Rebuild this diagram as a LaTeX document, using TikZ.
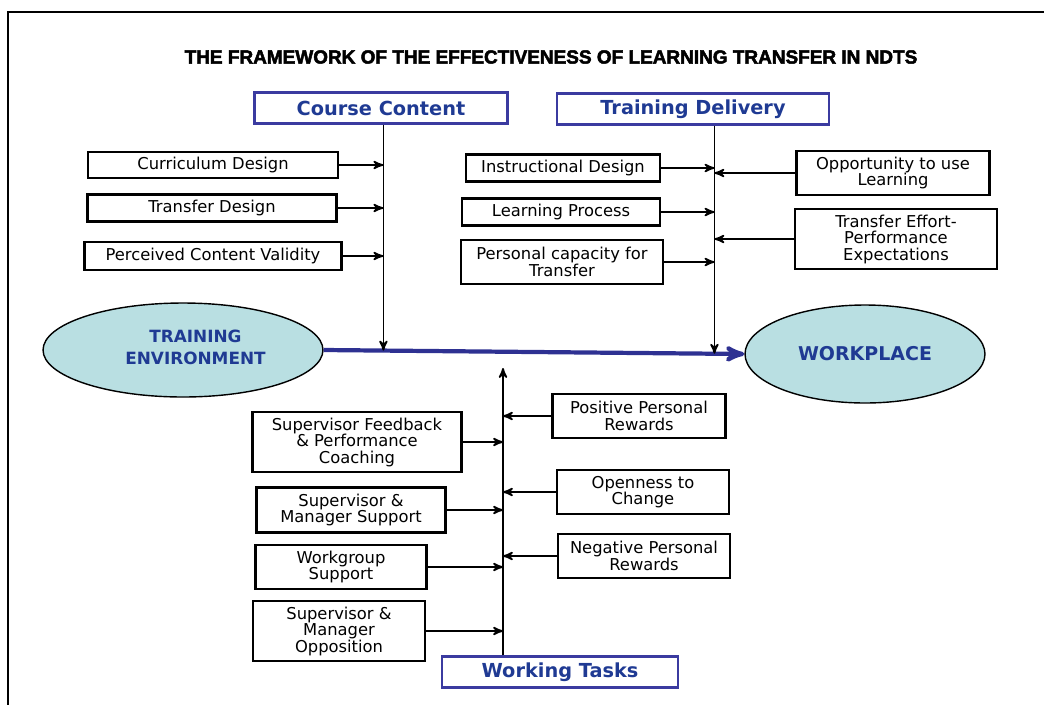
\documentclass[tikz,border=0pt]{standalone}
\usepackage{fontspec}
\setmainfont{DejaVu Sans}
\newfontfamily\titelfont[BoldFeatures={FakeBold=2.5}]{Liberation Sans}
\usepackage{tikz}
\usetikzlibrary{arrows,positioning,shapes.geometric,calc}
\definecolor{kantblaa}{HTML}{3B3BA0}
\definecolor{tekstblaa}{HTML}{1F3A93}
\definecolor{pilblaa}{HTML}{2E3192}
\definecolor{lysblaa}{HTML}{B9DFE2}
\tikzset{
    %Define standard arrow tip
    >=stealth',
    %Define style for factor boxes
    boks/.style={
           rectangle,
           draw=black, line width=1.2pt,
           align=center,
           inner sep=1pt,
           font=\fontsize{9.3}{9.4}\selectfont},
    % Define style for heading boxes
    hode/.style={
           rectangle,
           draw=kantblaa, line width=1.2pt,
           text=tekstblaa,
           minimum height=0.62cm,
           font=\bfseries\fontsize{11}{12}\selectfont},
    % Define style for the two ellipses
    miljo/.style={
           ellipse,
           draw=black, thick,
           fill=lysblaa,
           text=tekstblaa,
           align=center,
           font=\bfseries\fontsize{9.6}{12}\selectfont},
    % Define arrow styles
    pil/.style={
           ->,
           line width=1pt},
    hovedpil/.style={
           ->,
           line width=2.4pt,
           draw=pilblaa}
}
\begin{document}
\begin{tikzpicture}[x=0.02cm, y=-0.02cm]
      \useasboundingbox (0,0) rectangle (1044,704);
      \draw[line width=1.2pt] (8,720) -- (8,12) -- (1060,12);

      \node (tittel) at (551,57) {\titelfont\bfseries\fontsize{10.8}{12}\selectfont THE FRAMEWORK OF THE EFFECTIVENESS OF LEARNING TRANSFER IN NDTS};

      \node[hode, minimum width=5.06cm] (course) at (381,108) {Course Content};
      \node[hode, minimum width=5.44cm] (delivery) at (693,109) {Training Delivery};
      \node[hode, minimum width=4.72cm] (tasks) at (560,672) {Working Tasks};

      \node[miljo, minimum width=5.6cm, minimum height=1.88cm] (env) at (183,350) {\raisebox{0.12cm}{\shortstack{\hspace*{0.5cm}TRAINING\\[2pt]\hspace*{0.5cm}ENVIRONMENT}}};
      \node[miljo, minimum width=4.8cm, minimum height=1.96cm, font=\bfseries\fontsize{10.8}{12}\selectfont] (wp) at (865,354) {\raisebox{-0.05cm}{WORKPLACE}};

      \draw[hovedpil] (env.east) -- (wp.west);
      \coordinate (kc) at ($(env.east)!0.142!(wp.west)$);
      \coordinate (kd) at ($(env.east)!0.929!(wp.west)$);
      \coordinate (kw) at (503,368);

      % course content
      \node[boks, minimum width=5cm, minimum height=0.52cm] (cd) at (213,165) {Curriculum Design};
      \node[boks, minimum width=4.98cm, minimum height=0.54cm] (td) at (212,208) {Transfer Design};
      \node[boks, minimum width=5.14cm, minimum height=0.56cm] (pcv) at (213,256) {Perceived Content Validity};
      \draw[pil] (kc |- course.south) -- (kc);
      \draw[pil] (cd.east) -- (cd.east -| kc);
      \draw[pil] (td.east) -- (td.east -| kc);
      \draw[pil] (pcv.east) -- (pcv.east -| kc);

      % training delivery
      \node[boks, minimum width=3.88cm, minimum height=0.54cm] (id) at (563,168) {Instructional Design};
      \node[boks, minimum width=3.96cm, minimum height=0.54cm] (lp) at (561,212) {Learning Process};
      \node[boks, minimum width=4.04cm, minimum height=0.88cm] (pc) at (562,262) {Personal capacity for\\Transfer};
      \node[boks, minimum width=3.86cm, minimum height=0.88cm] (ou) at (893,173) {Opportunity to use\\Learning};
      \node[boks, minimum width=4.04cm, minimum height=1.2cm] (tep) at (896,239) {Transfer Effort-\\Performance\\Expectations};
      \draw[pil] (kd |- delivery.south) -- (kd);
      \draw[pil] (id.east) -- (id.east -| kd);
      \draw[pil] (lp.east) -- (lp.east -| kd);
      \draw[pil] (pc.east) -- (pc.east -| kd);
      \draw[pil] (ou.west) -- (ou.west -| kd);
      \draw[pil] (tep.west) -- (tep.west -| kd);

      % working tasks
      \node[boks, minimum width=4.18cm, minimum height=1.2cm] (sf) at (357,442) {Supervisor Feedback\\\& Performance\\Coaching};
      \node[boks, minimum width=3.78cm, minimum height=0.9cm] (sms) at (351,510) {Supervisor \&\\Manager Support};
      \node[boks, minimum width=3.42cm, minimum height=0.88cm] (ws) at (341,567) {Workgroup\\Support};
      \node[boks, minimum width=3.44cm, minimum height=1.2cm] (smo) at (339,631) {Supervisor \&\\Manager\\Opposition};
      \node[boks, minimum width=3.46cm, minimum height=0.88cm] (ppr) at (639,416) {Positive Personal\\Rewards};
      \node[boks, minimum width=3.44cm, minimum height=0.88cm] (oc) at (643,492) {Openness to\\Change};
      \node[boks, minimum width=3.44cm, minimum height=0.88cm] (npr) at (644,556) {Negative Personal\\Rewards};
      \draw[pil] (kw |- tasks.north) -- (kw);
      \draw[pil] (sf.east) -- (sf.east -| kw);
      \draw[pil] (sms.east) -- (sms.east -| kw);
      \draw[pil] (ws.east) -- (ws.east -| kw);
      \draw[pil] (smo.east) -- (smo.east -| kw);
      \draw[pil] (ppr.west) -- (ppr.west -| kw);
      \draw[pil] (oc.west) -- (oc.west -| kw);
      \draw[pil] (npr.west) -- (npr.west -| kw);
  \end{tikzpicture}
\end{document}
